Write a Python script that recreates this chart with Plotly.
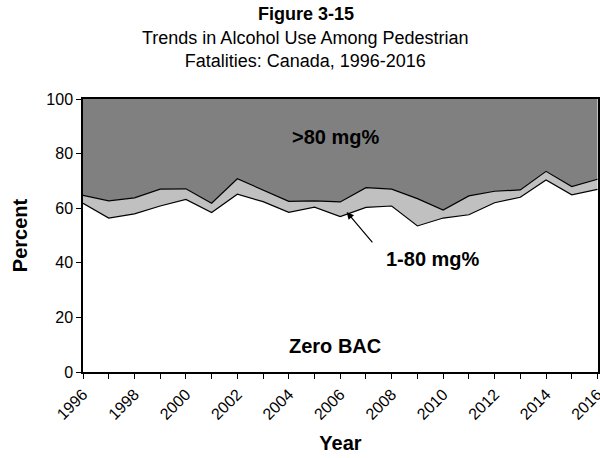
import plotly.graph_objects as go

# Share of pedestrian fatalities by BAC group
years = list(range(1996, 2017))
zero_bac = [61.8, 56.4, 57.9, 60.8, 63.2, 58.4, 65.1, 62.4, 58.5, 60.4, 56.9,
            60.3, 60.8, 53.5, 56.4, 57.6, 62.0, 64.0, 70.3, 64.9, 66.9]
upper_edge = [64.7, 62.7, 63.8, 67.0, 67.1, 61.8, 70.8, 66.7, 62.5, 62.7, 62.3,
              67.5, 67.0, 63.5, 59.3, 64.5, 66.2, 66.7, 73.5, 67.9, 70.6]
low_bac = [round(u - z, 1) for u, z in zip(upper_edge, zero_bac)]
high_bac = [round(100 - u, 1) for u in upper_edge]

FONT = "Arial, Liberation Sans, sans-serif"

fig = go.Figure()
fig.add_trace(go.Scatter(x=years, y=zero_bac, stackgroup="bac", mode="lines",
                         line=dict(color="black", width=1.2), fillcolor="white",
                         name="Zero BAC"))
fig.add_trace(go.Scatter(x=years, y=low_bac, stackgroup="bac", mode="lines",
                         line=dict(color="black", width=1.2), fillcolor="#c0c0c0",
                         name="1-80 mg%"))
fig.add_trace(go.Scatter(x=years, y=high_bac, stackgroup="bac", mode="lines",
                         line=dict(color="#808080", width=0), fillcolor="#808080",
                         name=">80 mg%"))

fig.update_layout(
    width=600, height=458,
    margin=dict(l=83, r=2, t=99, b=86, autoexpand=False),
    paper_bgcolor="white", plot_bgcolor="white",
    showlegend=False,
    font=dict(family=FONT, color="black", size=16),
    xaxis=dict(range=[1996, 2016.02], tickvals=list(range(1996, 2017, 2)),
               tickangle=-45, ticks="outside", ticklen=5, tickcolor="black",
               ticklabeloverflow="allow",
               minor=dict(dtick=1, ticks="outside", ticklen=5, tickcolor="black"),
               showline=True, linecolor="black", linewidth=1.5, mirror=True,
               showgrid=False, zeroline=False, automargin=False,
               title=dict(text="<b>Year</b>", font=dict(size=20), standoff=14)),
    yaxis=dict(range=[0, 100], dtick=20, ticks="outside", ticklen=5, tickcolor="black",
               showline=True, linecolor="black", linewidth=1.5, mirror=True,
               showgrid=False, zeroline=False, automargin=False,
               title=dict(text="<b>Percent</b>", font=dict(size=20), standoff=13)),
    annotations=[
        dict(text="<b>Figure 3-15</b>", x=0.433, y=1.311, xref="paper", yref="paper",
             yanchor="middle", showarrow=False, font=dict(size=18)),
        dict(text="Trends in Alcohol Use Among Pedestrian<br>Fatalities: Canada, 1996-2016",
             x=0.433, y=1.183, xref="paper", yref="paper", yanchor="middle",
             showarrow=False, font=dict(size=18)),
        dict(text="<b>>80 mg%</b>", x=2005.8, y=86, showarrow=False, font=dict(size=20)),
        dict(text="<b>Zero BAC</b>", x=2005.8, y=9.6, showarrow=False, font=dict(size=20)),
        dict(text="<b>1-80 mg%</b>", x=2009.6, y=41.3, showarrow=False, font=dict(size=20)),
        dict(text="", x=2006.25, y=58.6, ax=2007.3, ay=46.9, axref="x", ayref="y",
             showarrow=True, arrowhead=2, arrowsize=1.2, arrowwidth=1.2, arrowcolor="black"),
    ],
)

# page body has a default 8px margin; drop it so the figure sits at the window corner
fig.write_html("out.html", config={"displayModeBar": False},
               post_script="document.body.style.margin='0px';")
